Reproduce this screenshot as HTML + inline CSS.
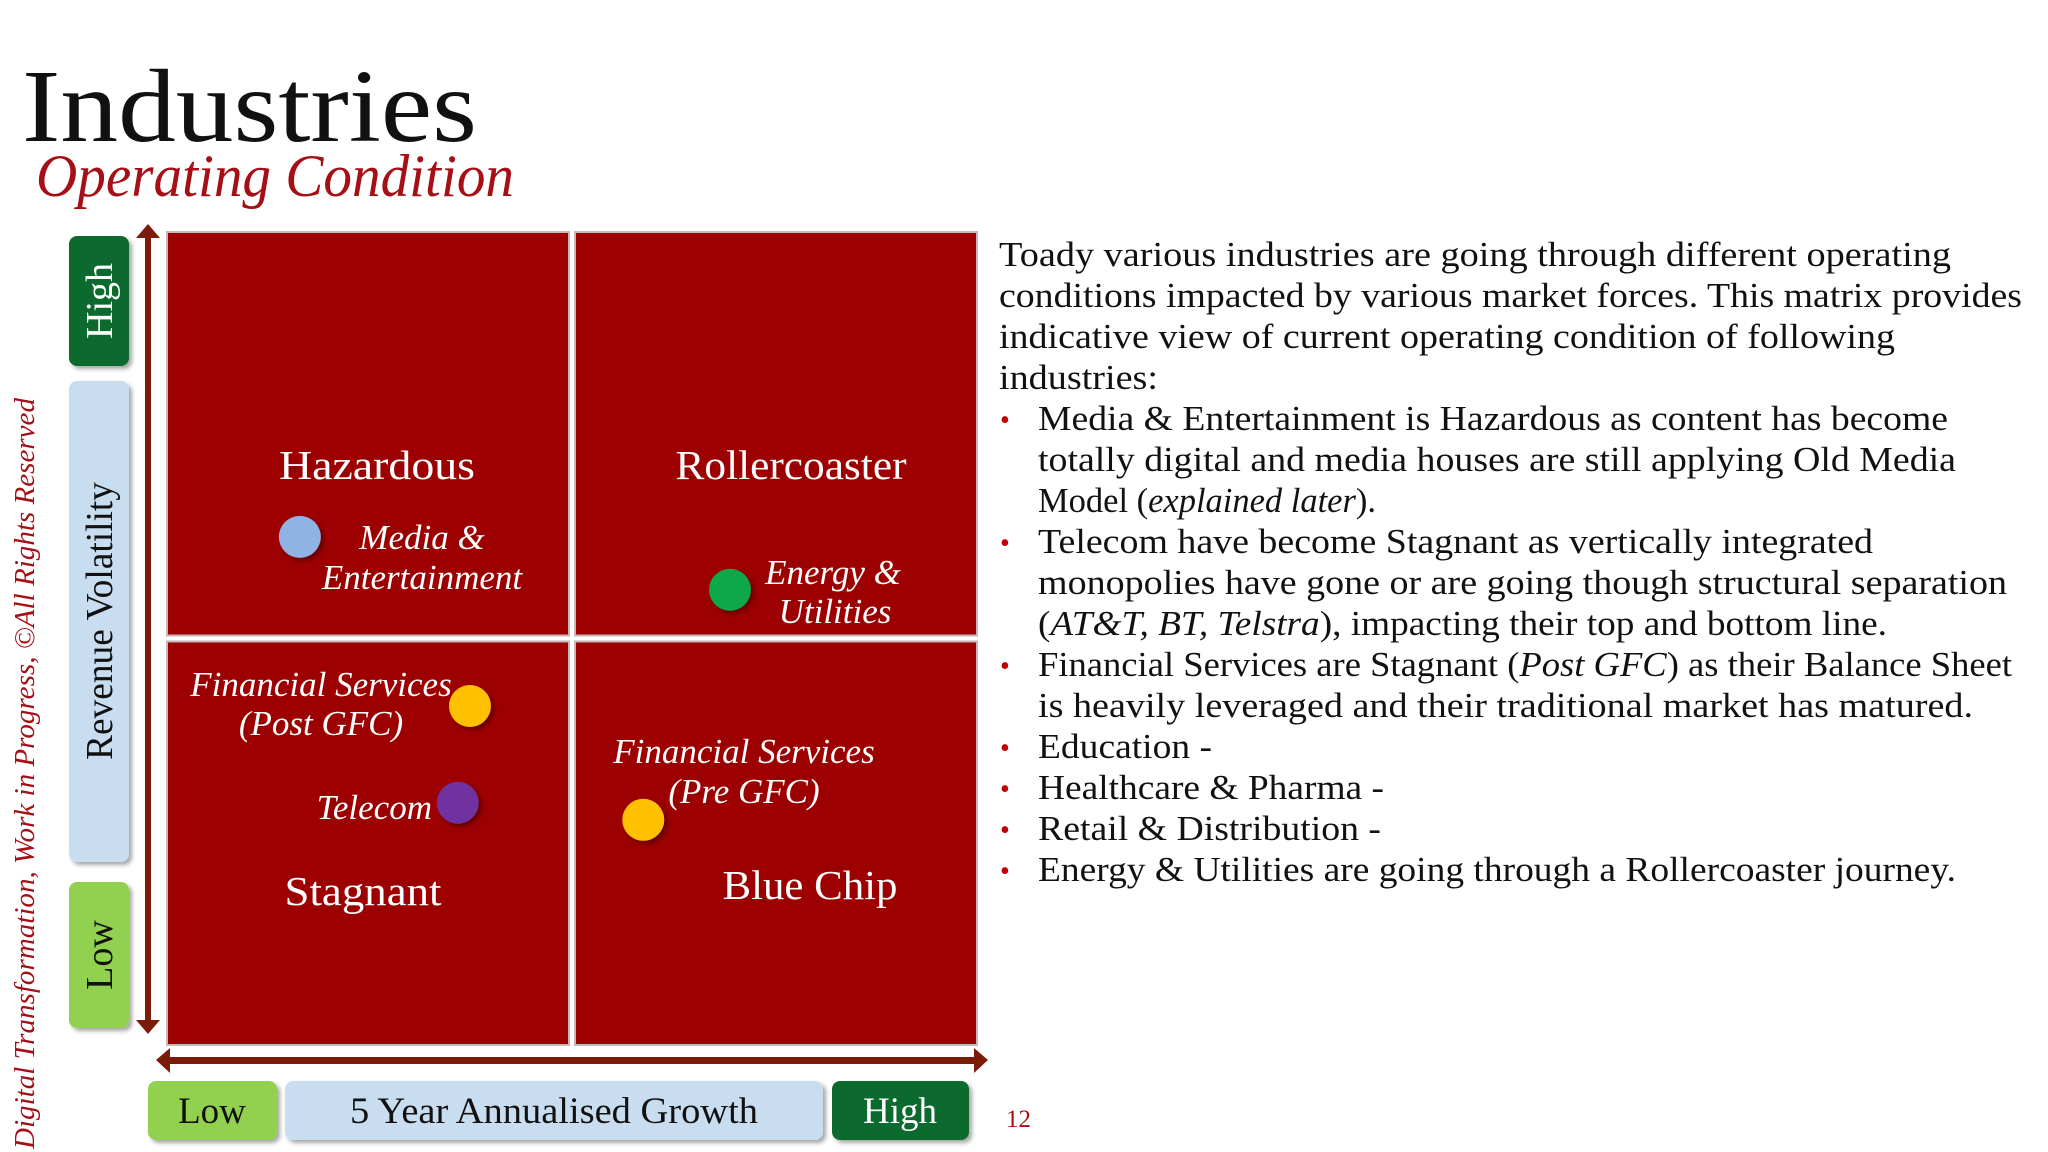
<!DOCTYPE html>
<html><head><meta charset="utf-8"><style>
html,body{margin:0;padding:0;background:#fff;width:2048px;height:1152px;overflow:hidden}
svg{display:block}
.serif{font-family:"Liberation Serif",serif}
</style></head><body>
<svg id="chart" width="2048" height="1152" viewBox="0 0 2048 1152" xmlns="http://www.w3.org/2000/svg" class="serif">
<defs>
<filter id="sh" x="-20%" y="-20%" width="150%" height="150%"><feDropShadow dx="3" dy="3" stdDeviation="2" flood-color="#000" flood-opacity="0.35"/></filter>
</defs>
<text x="22" y="141" font-size="104" fill="#111" textLength="455" lengthAdjust="spacingAndGlyphs">Industries</text>
<text x="36" y="196" font-size="60" font-style="italic" fill="#a50f15" textLength="478" lengthAdjust="spacingAndGlyphs">Operating Condition</text>
<text transform="translate(34,1149) rotate(-90)" font-size="28" font-style="italic" fill="#a50f15" textLength="751" lengthAdjust="spacingAndGlyphs">Digital Transformation, Work in Progress, ©All  Rights Reserved</text>

<g filter="url(#sh)">
<rect x="69" y="236" width="60" height="130" rx="8" fill="#0b6a2e"/>
<rect x="69" y="381" width="60" height="481" rx="8" fill="#c9ddf1"/>
<rect x="69" y="882" width="60" height="146" rx="8" fill="#92d050"/>
</g>
<text transform="translate(112,301) rotate(-90)" text-anchor="middle" font-size="38" fill="#fff">High</text>
<text transform="translate(112,621) rotate(-90)" text-anchor="middle" font-size="38" fill="#111" textLength="278" lengthAdjust="spacingAndGlyphs">Revenue Volatility</text>
<text transform="translate(112,955) rotate(-90)" text-anchor="middle" font-size="38" fill="#111">Low</text>

<g fill="#7b1c0a">
<rect x="145" y="236" width="6" height="786"/>
<polygon points="136,238 148,224 160,238"/>
<polygon points="136,1020 148,1034 160,1020"/>
</g>
<g fill="#7b1c0a">
<rect x="168" y="1057" width="808" height="7"/>
<polygon points="170,1048 156,1060 170,1073"/>
<polygon points="974,1048 988,1060 974,1073"/>
</g>

<g filter="url(#sh)">
<rect x="148" y="1081" width="129" height="59" rx="8" fill="#92d050"/>
<rect x="285" y="1081" width="538" height="59" rx="8" fill="#c9ddf1"/>
<rect x="832" y="1081" width="137" height="59" rx="8" fill="#0b6a2e"/>
</g>
<text x="212" y="1123" text-anchor="middle" font-size="37" fill="#111">Low</text>
<text x="554" y="1123" text-anchor="middle" font-size="37" fill="#111" textLength="408" lengthAdjust="spacingAndGlyphs">5 Year Annualised Growth</text>
<text x="900" y="1123" text-anchor="middle" font-size="37" fill="#fff">High</text>
<text x="1006" y="1127" font-size="25" fill="#a50f15">12</text>

<g id="quads"></g>
<g id="dots"></g>

<g font-size="35" fill="#111" lengthAdjust="spacingAndGlyphs">
<text x="999" y="266" textLength="952" lengthAdjust="spacingAndGlyphs">Toady various industries are going through different operating</text>
<text x="999" y="307" textLength="1023" lengthAdjust="spacingAndGlyphs">conditions impacted by various market forces. This matrix provides</text>
<text x="999" y="348" textLength="896" lengthAdjust="spacingAndGlyphs">indicative view of current operating condition of  following</text>
<text x="999" y="389" textLength="159" lengthAdjust="spacingAndGlyphs">industries:</text>
<g fill="#c00000" font-size="28"><text x="1000" y="429">•</text><text x="1000" y="552">•</text><text x="1000" y="675">•</text><text x="1000" y="757">•</text><text x="1000" y="798">•</text><text x="1000" y="839">•</text><text x="1000" y="880">•</text></g>
<text x="1038" y="430" textLength="910" lengthAdjust="spacingAndGlyphs">Media &amp; Entertainment is Hazardous as content has become</text>
<text x="1038" y="471" textLength="918" lengthAdjust="spacingAndGlyphs">totally digital and media houses are still applying Old Media</text>
<text x="1038" y="512" textLength="338" lengthAdjust="spacingAndGlyphs">Model (<tspan font-style="italic">explained later</tspan>).</text>
<text x="1038" y="553" textLength="835" lengthAdjust="spacingAndGlyphs">Telecom  have become Stagnant as vertically integrated</text>
<text x="1038" y="594" textLength="969" lengthAdjust="spacingAndGlyphs">monopolies have gone or are going though structural separation</text>
<text x="1038" y="635" textLength="849" lengthAdjust="spacingAndGlyphs">(<tspan font-style="italic">AT&amp;T, BT, Telstra</tspan>), impacting their top and bottom line.</text>
<text x="1038" y="676" textLength="974" lengthAdjust="spacingAndGlyphs">Financial Services are Stagnant (<tspan font-style="italic">Post GFC</tspan>) as their  Balance Sheet</text>
<text x="1038" y="717" textLength="935" lengthAdjust="spacingAndGlyphs">is heavily leveraged and their traditional market has matured.</text>
<text x="1038" y="758" textLength="174" lengthAdjust="spacingAndGlyphs">Education -</text>
<text x="1038" y="799" textLength="346" lengthAdjust="spacingAndGlyphs">Healthcare &amp; Pharma -</text>
<text x="1038" y="840" textLength="343" lengthAdjust="spacingAndGlyphs">Retail &amp;  Distribution -</text>
<text x="1038" y="881" textLength="918" lengthAdjust="spacingAndGlyphs">Energy &amp; Utilities are going through a Rollercoaster journey.</text>
</g>
</svg>
<script>
const quadrantNames = ["Hazardous", "Rollercoaster", "Stagnant", "Blue Chip"];
const industries = ["Media & Entertainment", "Energy & Utilities", "Financial Services (Post GFC)", "Telecom", "Financial Services (Pre GFC)"];
const growthValues = [16.4, 69.5, 37.4, 35.9, 58.8];
const volatilityValues = [62.5, 56.0, 41.7, 29.8, 27.7];
const dotColors = ["#8fb4e3", "#0ca84a", "#ffc000", "#7030a0", "#ffc000"];

const NS = "http://www.w3.org/2000/svg";
const X0 = 167, X1 = 977, Y0 = 1045, Y1 = 232;
function xs(v){ return X0 + (X1 - X0) * v / 100; }
function ys(v){ return Y0 - (Y0 - Y1) * v / 100; }
function mk(tag, attrs, parent){ const e = document.createElementNS(NS, tag); for (const k in attrs) e.setAttribute(k, attrs[k]); parent.appendChild(e); return e; }

const quads = document.getElementById('quads');
const qdefs = [[0,50,50,100],[50,100,50,100],[0,50,0,50],[50,100,0,50]];
qdefs.forEach((q, i) => {
  const x = xs(q[0]) + (q[0] ? 3 : 0), w = xs(q[1]) - xs(q[0]) - 3;
  const y = ys(q[3]) + (q[3] < 100 ? 3 : 0), h = ys(q[2]) - ys(q[3]) - 3;
  const r = mk('rect', {x: x, y: y, width: w, height: h, fill: '#9c0000', stroke: '#c9b6b6', 'stroke-width': 2}, quads);
  
  
});
const qlx = [377, 791, 363, 810];
const qly = [479, 479, 905, 899];
const qlw = [196, 231, 157, 175];
quadrantNames.forEach((n, i) => {
  const t = mk('text', {x: qlx[i], y: qly[i], 'text-anchor': 'middle', 'font-size': 41, fill: '#fff', textLength: qlw[i], lengthAdjust: 'spacingAndGlyphs'}, quads);
  t.textContent = n;
  
  
});

const dots = document.getElementById('dots');
const labelDefs = [
  [[ "Media &", 422, 549, 'middle'], ["Entertainment", 422, 589, 'middle']],
  [[ "Energy &", 833, 584, 'middle'], ["Utilities", 835, 623, 'middle']],
  [[ "Financial Services", 321, 696, 'middle'], ["(Post GFC)", 321, 735, 'middle']],
  [[ "Telecom", 432, 819, 'end']],
  [[ "Financial Services", 744, 763, 'middle'], ["(Pre GFC)", 744, 803, 'middle']]
];
industries.forEach((n, i) => {
  const c = mk('circle', {cx: xs(growthValues[i]), cy: ys(volatilityValues[i]), r: 21, fill: dotColors[i], filter: 'url(#sh)'}, dots);
  
  
  labelDefs[i].forEach(l => {
    const t = mk('text', {x: l[1], y: l[2], 'text-anchor': l[3], 'font-size': 35, 'font-style': 'italic', fill: '#fff'}, dots);
    t.textContent = l[0];
    
    
  });
});
</script>
</body></html>
